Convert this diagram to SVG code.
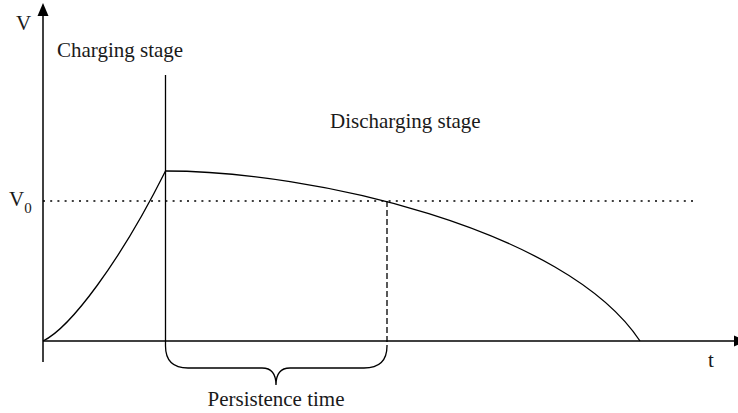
<svg xmlns="http://www.w3.org/2000/svg" width="738" height="413" viewBox="0 0 738 413">
<style>
  .ln{fill:none;stroke:#000;stroke-width:1.3}
  .ax{fill:none;stroke:#000;stroke-width:1.5}
  .lbl{font-family:"Liberation Serif","Times New Roman",serif;fill:#1a1a1a;font-size:21px}
</style>
<rect width="738" height="413" fill="#fff"/>
<g id="axes">
  <line class="ax" x1="43" y1="362" x2="43" y2="14"/>
  <polygon points="43,3 37.5,16 48.5,16" fill="#000"/>
  <line class="ax" x1="43" y1="341" x2="736" y2="341"/>
  <polygon points="747,341 734,335.5 734,346.5" fill="#000"/>
</g>
<g id="connectors">
  <line class="ln" x1="165.5" y1="75" x2="165.5" y2="346"/>
  <line class="ln" x1="43" y1="201" x2="698" y2="201" stroke-dasharray="2,5.2" stroke-width="1.4"/>
  <line class="ln" x1="387" y1="201" x2="387" y2="346" stroke-dasharray="6,3"/>
  <path id="charging" class="ln" d="M43,341 C70,328 120,262 165.5,171"/>
  <path id="discharging" class="ln" d="M165.5,171 C310,171 565,228 640,341"/>
  <path id="brace" class="ln" d="M165.5,346 Q165.5,368 188,368 H262 Q276,368 276,385 Q276,368 290,368 H364 Q387,368 387,346"/>
</g>
<g id="labels">
  <text class="lbl" x="16" y="30">V</text>
  <text class="lbl" x="9" y="206">V<tspan font-size="15" dy="7">0</tspan></text>
  <text class="lbl" x="708" y="367">t</text>
  <g id="charging-stage"><text class="lbl" x="57" y="57">Charging stage</text></g>
  <g id="discharging-stage"><text class="lbl" x="330" y="128">Discharging stage</text></g>
  <g id="persistence-time"><text class="lbl" x="276" y="406" text-anchor="middle">Persistence time</text></g>
</g>
</svg>
